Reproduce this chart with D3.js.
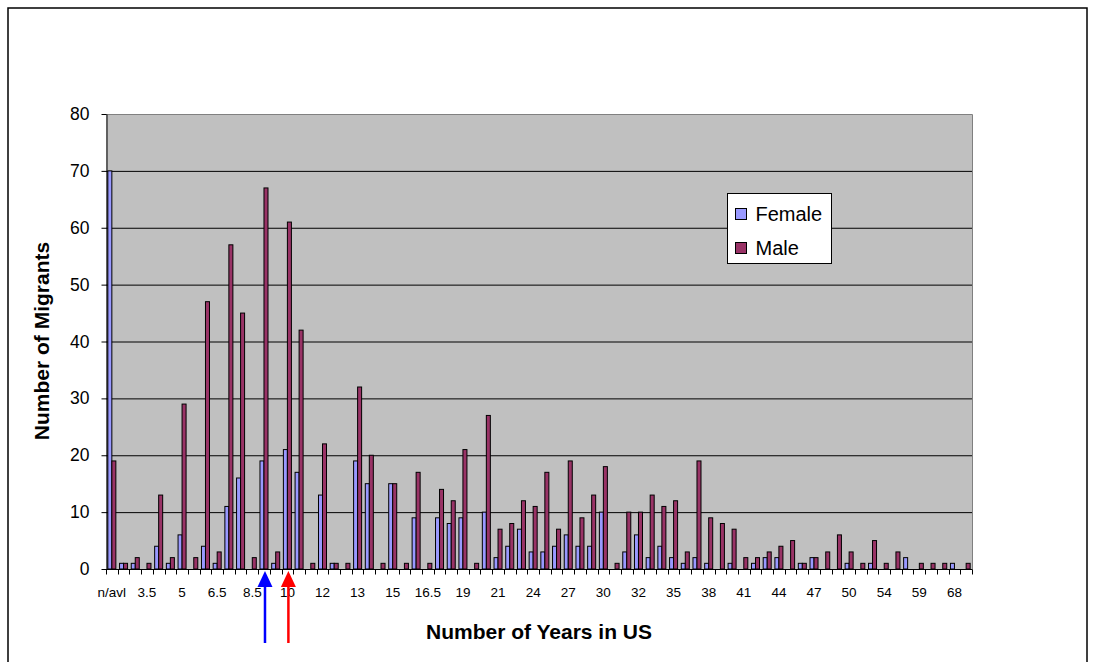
<!DOCTYPE html>
<html>
<head>
<meta charset="utf-8">
<script src="https://cdn.jsdelivr.net/npm/d3@7"></script>
<style>
  html, body { margin: 0; padding: 0; background: #fff; }
  svg { display: block; font-family: Arial, "Liberation Sans", sans-serif; }
</style>
</head>
<body>
<svg id="chart" width="1095" height="662"></svg>
<script>
// Years spent in the US, one category per reported value
const categories = [
  "n/avl", "2", "3", "3.5", "4", "4.5", "5", "5.5", "6", "6.5",
  "7", "8", "8.5", "9", "9.5", "10", "11", "11.5", "12", "12.3",
  "12.5", "13", "14", "14.5", "15", "15.5", "16", "16.5", "17", "18",
  "19", "19.5", "20", "21", "22", "23", "24", "25", "26", "27",
  "28", "29", "30", "30.5", "31", "32", "33", "34", "35", "36",
  "37", "38", "39", "40", "41", "42", "43", "44", "45", "46",
  "47", "48", "49", "50", "51", "52", "54", "55", "57", "59",
  "60", "65", "68", "70"
];

// Counts of migrants per category
const female = [
  70, 1, 1, 0, 4, 1, 6, 0, 4, 1,
  11, 16, 0, 19, 1, 21, 17, 0, 13, 1,
  0, 19, 15, 0, 15, 0, 9, 0, 9, 8,
  9, 0, 10, 2, 4, 7, 3, 3, 4, 6,
  4, 4, 10, 0, 3, 6, 2, 4, 2, 1,
  2, 1, 0, 1, 0, 1, 2, 2, 0, 1,
  2, 0, 0, 1, 0, 1, 0, 0, 2, 0,
  0, 0, 1, 0
];
const male = [
  19, 1, 2, 1, 13, 2, 29, 2, 47, 3,
  57, 45, 2, 67, 3, 61, 42, 1, 22, 1,
  1, 32, 20, 1, 15, 1, 17, 1, 14, 12,
  21, 1, 27, 7, 8, 12, 11, 17, 7, 19,
  9, 13, 18, 1, 10, 10, 13, 11, 12, 3,
  19, 9, 8, 7, 2, 2, 3, 4, 5, 1,
  2, 3, 6, 3, 1, 5, 1, 3, 0, 1,
  1, 1, 0, 1
];

// Category labels printed under the axis
const shownLabels = [
  "n/avl", "3.5", "5", "6.5", "8.5", "10", "12", "13", "15", "16.5",
  "19", "21", "24", "27", "30", "32", "35", "38", "41", "44",
  "47", "50", "54", "59", "68"
];
const yTicks = [0, 10, 20, 30, 40, 50, 60, 70, 80];

// Categories marked with arrows under the axis
const arrowMarks = [
  { category: "9", color: "#0000FF" },
  { category: "10", color: "#FF0000" }
];

const seriesNames = ["Female", "Male"];
const seriesColors = { Female: "#9999FF", Male: "#993366" };

const svg = d3.select("#chart");
const plot = { left: 106, top: 114, right: 972, bottom: 569 };

// Outer chart frame
svg.append("rect")
  .attr("x", 8).attr("y", 8)
  .attr("width", 1079).attr("height", 700)
  .attr("fill", "#fff")
  .attr("stroke", "#000").attr("stroke-width", 1.5);

const x = d3.scaleBand()
  .domain(categories)
  .range([plot.left, plot.right])
  .padding(0);

const xInner = d3.scaleBand()
  .domain(seriesNames)
  .range([0, x.bandwidth()])
  .paddingInner(0)
  .paddingOuter(0.46);

const y = d3.scaleLinear()
  .domain([0, 80])
  .range([plot.bottom, plot.top]);

// Plot background
svg.append("rect")
  .attr("x", plot.left).attr("y", plot.top)
  .attr("width", plot.right - plot.left)
  .attr("height", plot.bottom - plot.top)
  .attr("fill", "#C0C0C0");

// Horizontal gridlines
svg.append("g")
  .selectAll("line")
  .data(yTicks.filter(d => d > 0 && d < 80))
  .join("line")
  .attr("x1", plot.left).attr("x2", plot.right)
  .attr("y1", d => y(d) + 0.5).attr("y2", d => y(d) + 0.5)
  .attr("stroke", "#000").attr("stroke-width", 1);

// Plot border on top and right
svg.append("path")
  .attr("d", `M${plot.left},${plot.top + 0.5}H${plot.right + 0.5}V${plot.bottom}`)
  .attr("fill", "none")
  .attr("stroke", "#808080").attr("stroke-width", 1);

// Bars
const rows = categories.map((c, i) => ({ c, Female: female[i], Male: male[i] }));
const groups = svg.append("g")
  .selectAll("g")
  .data(rows)
  .join("g")
  .attr("transform", d => `translate(${x(d.c)},0)`);

groups.selectAll("rect")
  .data(d => seriesNames.map(s => ({ s, v: d[s] })).filter(e => e.v > 0))
  .join("rect")
  .attr("x", d => xInner(d.s))
  .attr("y", d => y(d.v))
  .attr("width", xInner.bandwidth())
  .attr("height", d => y(0) - y(d.v))
  .attr("fill", d => seriesColors[d.s])
  .attr("stroke", "#000").attr("stroke-width", 1);

// Y axis
const yAxis = svg.append("g")
  .attr("transform", `translate(${plot.left + 0.5},0)`)
  .call(d3.axisLeft(y).tickValues(yTicks).tickSize(5).tickPadding(12).tickSizeOuter(0));
yAxis.select(".domain").attr("stroke", "#000");
yAxis.selectAll(".tick line").attr("stroke", "#000");
yAxis.selectAll("text")
  .attr("font-size", 17.5)
  .attr("fill", "#000")
  .attr("font-family", "Arial, 'Liberation Sans', sans-serif");

// X axis: ticks on category boundaries, labels on every third category
const shownSet = new Set(shownLabels);
const xAxisG = svg.append("g").attr("transform", `translate(0,${plot.bottom + 0.5})`);
xAxisG.append("line")
  .attr("x1", plot.left).attr("x2", plot.right + 0.5)
  .attr("stroke", "#000");
xAxisG.selectAll("line.tick")
  .data(categories.concat([null]))
  .join("line")
  .attr("class", "tick")
  .attr("x1", (d, i) => Math.round(plot.left + i * x.step()) + 0.5)
  .attr("x2", (d, i) => Math.round(plot.left + i * x.step()) + 0.5)
  .attr("y1", 0).attr("y2", 5)
  .attr("stroke", "#000");
xAxisG.selectAll("text")
  .data(categories.filter(c => shownSet.has(c)))
  .join("text")
  .attr("x", d => x(d) + x.bandwidth() / 2)
  .attr("y", 27)
  .attr("text-anchor", "middle")
  .attr("font-size", 13.5)
  .attr("fill", "#000")
  .text(d => d);

// Axis titles
svg.append("text")
  .attr("x", 539).attr("y", 639)
  .attr("text-anchor", "middle")
  .attr("font-size", 21).attr("font-weight", "bold")
  .text("Number of Years in US");

svg.append("text")
  .attr("transform", "translate(49,341) rotate(-90)")
  .attr("text-anchor", "middle")
  .attr("font-size", 21).attr("font-weight", "bold")
  .text("Number of Migrants");

// Legend
const legend = svg.append("g").attr("transform", "translate(727.5,193.5)");
legend.append("rect")
  .attr("width", 104).attr("height", 70)
  .attr("fill", "#fff").attr("stroke", "#000");
seriesNames.forEach((s, i) => {
  const row = legend.append("g").attr("transform", `translate(8,${15 + i * 34})`);
  row.append("rect")
    .attr("width", 11).attr("height", 11)
    .attr("fill", seriesColors[s]).attr("stroke", "#000");
  row.append("text")
    .attr("x", 20).attr("y", 12)
    .attr("font-size", 20)
    .text(s);
});

// Arrows under the axis
const arrows = svg.append("g");
arrowMarks.forEach(a => {
  const cx = x(a.category) + x.bandwidth() / 2 + 1;
  arrows.append("line")
    .attr("x1", cx).attr("x2", cx)
    .attr("y1", 585).attr("y2", 643)
    .attr("stroke", a.color).attr("stroke-width", 2.5);
  arrows.append("path")
    .attr("d", `M${cx},571L${cx + 7.5},587L${cx - 7.5},587Z`)
    .attr("fill", a.color);
});
</script>
</body>
</html>
